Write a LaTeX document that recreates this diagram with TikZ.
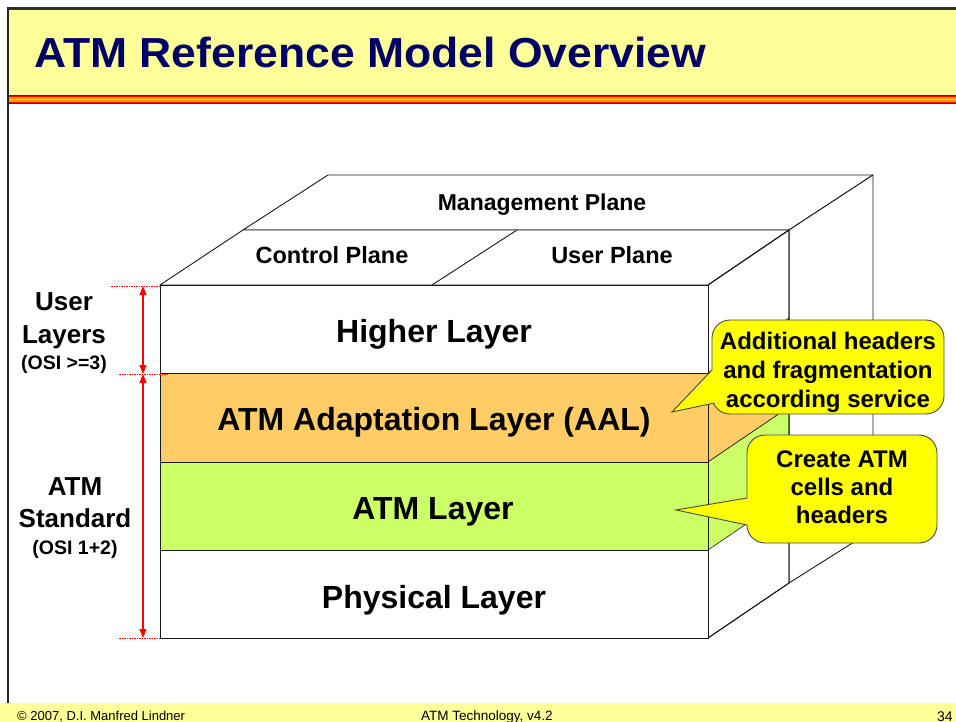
\documentclass[tikz,border=0pt]{standalone}
\usepackage{fontspec}
\setmainfont{Liberation Sans}
\usetikzlibrary{arrows.meta}
\definecolor{titlebg}{HTML}{FFFF99}
\definecolor{titleblue}{HTML}{000066}
\definecolor{aalc}{HTML}{FFCC66}
\definecolor{atmc}{HTML}{CCFF66}
\definecolor{callc}{HTML}{FFFF00}
\definecolor{stripedr}{HTML}{990000}
\definecolor{stripere}{HTML}{FF0000}
\definecolor{stripeor}{HTML}{FF9900}
\definecolor{stripeye}{HTML}{FFCC00}
\definecolor{edgec}{HTML}{1A1A1A}
\newcommand\myfs[1]{\fontsize{#1}{#1}\selectfont}
\begin{document}
\begin{tikzpicture}[x=1pt,y=-1pt,
  txt/.style={inner sep=0pt, anchor=base, font=\bfseries\myfs{#1}},
  txt/.default=24,
  face/.style={draw=edgec, line width=0.9pt, line join=round},
  thin/.style={draw=edgec, line width=0.6pt},
  callout/.style={fill=callc, draw=edgec!80, line width=0.9pt, rounded corners=18pt},
  wedge/.style={draw=edgec!80, line width=0.9pt, line join=miter},
  dim/.style={red, line width=1.2pt, {Triangle[length=9pt,width=7pt]}-{Triangle[length=9pt,width=7pt]}},
  dimdot/.style={red, line width=0.8pt, dash pattern=on 1.5pt off 1pt}
]
\useasboundingbox (0,0) rectangle (956,722);
\fill[white] (0,0) rectangle (956,722);

% title bar
\fill[titlebg] (8,9) rectangle (956,95);
\fill[stripedr] (8,95) rectangle (956,104);
\fill[stripere] (8,96.2) rectangle (956,102.8);
\fill[stripeor] (8,97.4) rectangle (956,101.6);
\fill[stripeye] (8,98.6) rectangle (956,100.4);
\draw[line width=3pt, color=black!85!olive] (6.5,8.5) -- (956,8.5);
\node[inner sep=0pt, anchor=base west, font=\bfseries\myfs{42}, text=titleblue] (title) at (34,68) {\scalebox{1.06}[1]{ATM Reference Model Overview}};

% footer
\fill[titlebg] (0,703) rectangle (956,722);
\draw[line width=2.5pt, color=black!85] (8,7) -- (8,703);
\node[inner sep=0pt, anchor=base west, font=\myfs{13}] (copy) at (17,720) {© 2007, D.I. Manfred Lindner};
\node[inner sep=0pt, anchor=base west, font=\myfs{13.5}] (course) at (421,720) {ATM Technology, v4.2};
\node[inner sep=0pt, anchor=base west, font=\myfs{14}] (page) at (937,721) {34};

% management plane (back slab)
\filldraw[face, fill=white] (243,230) -- (328,175) -- (873,175) -- (789,230) -- cycle;
\filldraw[face, fill=white] (789,230) -- (873,175) -- (873,530) -- (789,583) -- cycle;
\node[txt=23] (mgmt) at (542,211) {Management Plane};

% front slab top face (control / user planes)
\filldraw[face, fill=white] (160,285) -- (243,230) -- (789,230) -- (708,285) -- cycle;
\draw[face] (432,285) -- (517,230);
\node[txt=23.5] (ctrl) at (332,264) {Control Plane};
\node[txt=23.5] (userp) at (612,264) {User Plane};

% front slab side face
\filldraw[face, fill=white] (708,285) -- (789,230) -- (789,583) -- (708,638) -- cycle;
\filldraw[thin, fill=aalc] (708,373) -- (789,318) -- (789,407) -- (708,462) -- cycle;
\filldraw[thin, fill=atmc] (708,462) -- (789,407) -- (789,495) -- (708,550) -- cycle;
\draw[face] (708,285) -- (789,230) -- (789,583) -- (708,638);

% front layers
\filldraw[face, fill=white] (160,285) rectangle (708,373);
\filldraw[face, fill=aalc] (160,373) rectangle (708,462);
\filldraw[face, fill=atmc] (160,462) rectangle (708,550);
\filldraw[face, fill=white] (160,550) rectangle (708,638);
\node[txt=32] (higher) at (434,342.5) {Higher Layer};
\node[txt=32] (aal) at (434,430.5) {ATM Adaptation Layer (AAL)};
\node[txt=32] (atm) at (433,519.5) {ATM Layer};
\node[txt=32] (phys) at (434,608.5) {Physical Layer};

% dimension markers
\coordinate (d0) at (143,286);
\coordinate (d1) at (143,374);
\coordinate (d2) at (143,638);
\draw[dimdot] (111,286) -- (160,286);
\draw[dimdot] (119,374) -- (168,374);
\draw[dimdot] (119,638.5) -- (160,638.5);
\draw[dim] (d0) -- (d1);
\draw[dim] (d1) -- (d2);

% left labels
\node[txt=26] (ul1) at (64,310) {User};
\node[txt=26] (ul2) at (64,343) {Layers};
\node[txt=19.5] (ul3) at (64,369) {(OSI >=3)};
\node[txt=26] (as1) at (75,495) {ATM};
\node[txt=26] (as2) at (75,527) {Standard};
\node[txt=19.5] (as3) at (75,554) {(OSI 1+2)};

% callout 1
\draw[callout] (712,320) rectangle (944,414);
\coordinate (tip1) at (672,412);
\fill[callc] (712,370) -- (tip1) -- (714.5,403) -- (735,385) -- cycle;
\draw[wedge] (712,370) -- (tip1) -- (714.5,403);
\node[txt=24] (c1a) at (828,349) {Additional headers};
\node[txt=24] (c1b) at (828,378) {and fragmentation};
\node[txt=24] (c1c) at (828,407) {according service};

% callout 2
\draw[callout] (747,435) rectangle (937,543);
\coordinate (tip2) at (676,510);
\fill[callc] (747,498) -- (tip2) -- (747,525) -- (765,511) -- cycle;
\draw[wedge] (747,498) -- (tip2) -- (747,525);
\node[txt=24] (c2a) at (842,467) {Create ATM};
\node[txt=24] (c2b) at (842,495) {cells and};
\node[txt=24] (c2c) at (842,523) {headers};
\end{tikzpicture}
\end{document}
